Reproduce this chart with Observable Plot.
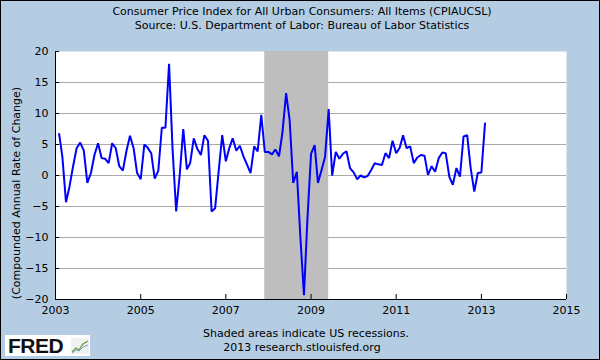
<!DOCTYPE html>
<html>
<head>
<meta charset="utf-8">
<script src="https://cdn.jsdelivr.net/npm/d3@7"></script>
<script src="https://cdn.jsdelivr.net/npm/@observablehq/plot@0.6"></script>
<style>
  html, body { margin: 0; padding: 0; background: #b4cde3; }
  #wrap { position: relative; width: 600px; height: 360px; background: #b4cde3; overflow: hidden;
          font-family: "DejaVu Sans", sans-serif; font-size: 11px; color: #000; }
  #wrap svg { position: absolute; left: 0; top: 0; }
  .t { position: absolute; white-space: nowrap; text-align: center; line-height: 13px; }
  #border { position: absolute; left: 0; top: 0; width: 600px; height: 360px; box-sizing: border-box;
            border: 1px solid #000; pointer-events: none; }
  #logo { position: absolute; left: 5px; top: 335px; width: 85px; height: 21px; background: #fff; }
  #logo span { position: absolute; left: 3px; top: -1px; font-family: "Liberation Sans", Arial, sans-serif;
               font-weight: bold; font-size: 21px; line-height: 23px; letter-spacing: -0.5px; color: #111; }
  #logo svg { position: absolute; left: 66px; top: 3px; }
</style>
</head>
<body>
<div id="wrap">
  <div class="t" style="left:0;width:604px;top:5px;">Consumer Price Index for All Urban Consumers: All Items (CPIAUCSL)</div>
  <div class="t" style="left:0;width:604px;top:19px;">Source: U.S. Department of Labor: Bureau of Labor Statistics</div>
  <div id="chart"></div>
  <div class="t" style="left:16px;top:193px;transform:translate(-50%,-50%) rotate(-90deg);">(Compounded Annual Rate of Change)</div>
  <div class="t" style="left:0;width:612px;top:327px;">Shaded areas indicate US recessions.</div>
  <div class="t" style="left:0;width:604px;top:341px;">2013 research.stlouisfed.org</div>
  <div id="logo"><span>FRED</span>
    <svg width="18" height="16" viewBox="0 0 18 16">
      <rect x="0" y="0" width="18" height="16" fill="#eef2f0"/>
      <polyline points="1,14 5,10 8,12 12,6 17,3" fill="none" stroke="#6a9a3a" stroke-width="1.2"/>
      <polyline points="1,15 5,12 8,13 12,9 17,7" fill="none" stroke="#7a9cc8" stroke-width="1"/>
    </svg>
  </div>
  <div id="border"></div>
</div>
<script>
// Monthly compounded annual rate of change of CPIAUCSL, Feb 2003 .. Feb 2013
const firstMonth = "2003-02-01";
const values = [
  6.7, 3.0, -4.3, -1.8, 1.5, 4.4, 5.3, 4.0, -1.2, 0.4, 3.3,            // 2003 Feb-Dec
  5.2, 2.8, 2.7, 2.0, 5.2, 4.4, 1.5, 0.8, 4.0, 6.4, 4.4, 0.4,          // 2004
  -0.6, 5.0, 4.5, 3.6, -0.5, 0.8, 7.7, 7.7, 18.0, 4.3, -5.8, 0.0,      // 2005
  7.5, 1.0, 2.0, 6.0, 4.3, 3.3, 6.5, 5.6, -5.8, -5.3, 0.8, 6.5,        // 2006
  2.3, 4.5, 6.0, 4.0, 4.8, 3.1, 1.8, 0.4, 4.7, 3.9, 9.8, 3.8,          // 2007
  3.8, 3.4, 4.2, 3.1, 7.0, 13.3, 9.0, -1.2, 0.6, -9.8, -19.3, -7.0,    // 2008
  3.5, 4.9, -1.2, 0.9, 3.0, 10.7, 0.0, 3.8, 2.7, 3.5, 3.9, 1.2,        // 2009
  0.5, -0.6, 0.0, -0.3, -0.1, 0.9, 2.0, 1.8, 1.7, 3.6, 2.8, 5.6,       // 2010
  3.6, 4.5, 6.5, 4.4, 4.7, 2.0, 2.9, 3.3, 3.2, 0.1, 1.5, 0.6,          // 2011
  2.8, 3.7, 3.6, -0.2, -1.5, 1.2, -0.2, 6.3, 6.5, 1.2, -2.6, 0.4,      // 2012
  0.5, 8.4                                                             // 2013 Jan-Feb
];
const xDomain = ["2003-01-01", "2015-01-01"];
const xTickYears = ["2003", "2005", "2007", "2009", "2011", "2013", "2015"];
const yDomain = [-20, 20];
const yTicks = [-20, -15, -10, -5, 0, 5, 10, 15, 20];
const gridValues = [-15, -10, -5, 0, 5, 10, 15];
const recessions = [{start: "2007-12-01", end: "2009-06-01"}];

const start = new Date(firstMonth);
const data = values.map((v, i) => ({date: d3.utcMonth.offset(start, i), value: v}));
const xDates = xDomain.map(d => new Date(d));
const xTicks = xTickYears.map(y => new Date(y + "-01-01"));

const W = 600, H = 360, mL = 55, mR = 34, mT = 51, mB = 61;
const plotW = W - mL - mR, plotH = H - mT - mB;

const chart = Plot.plot({
  width: W, height: H,
  marginLeft: mL, marginRight: mR, marginTop: mT, marginBottom: mB,
  style: {background: "transparent", fontFamily: "DejaVu Sans, sans-serif", fontSize: "11px", color: "#000", overflow: "visible"},
  x: {type: "utc", domain: xDates, ticks: xTicks, tickFormat: d3.utcFormat("%Y"), tickSize: 0, tickPadding: 7, label: null},
  y: {domain: yDomain, ticks: yTicks, tickSize: 0, tickPadding: 7, label: null},
  marks: [
    Plot.frame({fill: "white", stroke: "none"}),
    Plot.ruleY(gridValues, {stroke: "#aaaaaa", strokeWidth: 1}),
    Plot.rect(recessions, {x1: d => new Date(d.start), x2: d => new Date(d.end), y1: yDomain[0], y2: yDomain[1], fill: "#bebebe"}),
    Plot.tickY(yTicks, {y: d => d, insetRight: plotW - 4, stroke: "#000"}),
    Plot.tickX(xTicks, {x: d => d, insetTop: plotH - 5, stroke: "#000"}),
    Plot.line(data, {x: "date", y: "value", stroke: "#0000ff", strokeWidth: 2, strokeLinejoin: "miter"}),
    Plot.ruleX([xDates[0]], {stroke: "#000"}),
    Plot.ruleY([yDomain[0]], {stroke: "#000"})
  ]
});
document.getElementById("chart").appendChild(chart);
</script>
</body>
</html>
